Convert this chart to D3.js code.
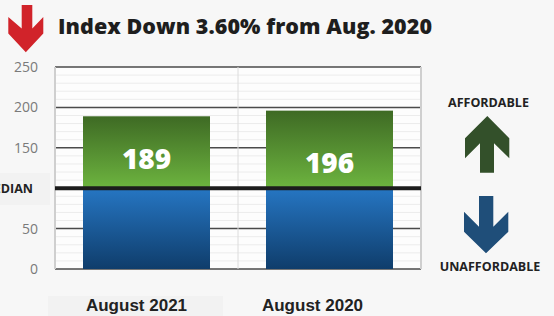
<!DOCTYPE html>
<html lang="en">
  <head>
    <meta charset="UTF-8"/>
    <title>Affordability Index</title>
    <script src="https://d3js.org/d3.v7.min.js"></script>
    <style>
        body {
          margin: 0;
          background: #f7f7f7;
        }
        .title {
          font-family: "Open Sans", sans-serif;
          font-weight: 800;
          fill: #1e1e1e;
        }
        .tick-label {
          font-family: "Open Sans", sans-serif;
          font-size: 14px;
          fill: #7a7a7a;
        }
        .side-label {
          font-family: "Open Sans", sans-serif;
          font-weight: 700;
          font-size: 12.5px;
          fill: #222;
        }
        .cat-label {
          font-family: "Liberation Sans", Arial, sans-serif;
          font-weight: 700;
          font-size: 17px;
          fill: #222;
        }
        .value-label {
          font-family: "Open Sans", sans-serif;
          font-weight: 800;
          font-size: 28px;
          fill: #fff;
        }
    </style>
  </head>
  <body>
    <script>
        const width = 554, height = 316

        const categories = ["August 2021", "August 2020"]
        const values = [189, 196]
        const median = 100
        const majorTicks = [0, 50, 100, 150, 200, 250]
        const minorTicks = d3.range(10, 250, 10).filter(t => t % 50 !== 0)
        const title = "Index Down 3.60% from Aug. 2020"

        const plot = {left: 55, right: 421, top: 67, bottom: 269}

        const x = d3.scaleBand()
            .domain(categories)
            .range([plot.left, plot.right])
            .paddingInner(0.306)
            .paddingOuter(0.153)

        const y = d3.scaleLinear()
            .domain([0, 250])
            .range([plot.bottom, plot.top])

        const svg = d3.select("body").append("svg")
            .attr("width", width)
            .attr("height", height)

        svg.append("rect")
            .attr("width", width)
            .attr("height", height)
            .attr("fill", "#f7f7f7")

        // gradients for the two halves of each bar
        const defs = svg.append("defs")
        const gGreen = defs.append("linearGradient")
            .attr("id", "green").attr("x1", 0).attr("y1", 0).attr("x2", 0).attr("y2", 1)
        gGreen.append("stop").attr("offset", "0%").attr("stop-color", "#3e6a24")
        gGreen.append("stop").attr("offset", "100%").attr("stop-color", "#6db43f")
        const gBlue = defs.append("linearGradient")
            .attr("id", "blue").attr("x1", 0).attr("y1", 0).attr("x2", 0).attr("y2", 1)
        gBlue.append("stop").attr("offset", "0%").attr("stop-color", "#2676c3")
        gBlue.append("stop").attr("offset", "100%").attr("stop-color", "#0f3d6b")

        // faint label boxes
        svg.append("rect")
            .attr("x", 0).attr("y", 173).attr("width", 50).attr("height", 32)
            .attr("fill", "#f2f2f2")
        svg.append("rect")
            .attr("x", 48).attr("y", 296).attr("width", 175).attr("height", 20)
            .attr("fill", "#f2f2f2")

        // plot background
        svg.append("rect")
            .attr("x", plot.left).attr("y", plot.top)
            .attr("width", plot.right - plot.left)
            .attr("height", plot.bottom - plot.top)
            .attr("fill", "#fdfdfd")

        // minor grid
        svg.selectAll(".minor")
            .data(minorTicks)
            .join("line")
            .attr("x1", plot.left).attr("x2", plot.right)
            .attr("y1", d => y(d)).attr("y2", d => y(d))
            .attr("stroke", "#ececec")
            .attr("stroke-width", 1)

        // major grid
        svg.selectAll(".major")
            .data(majorTicks.filter(t => t !== median))
            .join("line")
            .attr("x1", plot.left).attr("x2", plot.right)
            .attr("y1", d => y(d)).attr("y2", d => y(d))
            .attr("stroke", "#4a4a4a")
            .attr("stroke-width", 1.5)

        // vertical dividers
        const dividers = [plot.left, plot.left + x.step() * (0.153 + 1 - 0.306 / 2) , plot.right]
        svg.selectAll(".vdiv")
            .data(dividers)
            .join("line")
            .attr("x1", d => d).attr("x2", d => d)
            .attr("y1", plot.top).attr("y2", plot.bottom)
            .attr("stroke", (d, i) => i === 1 ? "#dcdcdc" : "#cfcfcf")
            .attr("stroke-width", (d, i) => i === 1 ? 1 : 2)

        // tick labels
        svg.selectAll(".tick-label")
            .data(majorTicks.filter(t => t !== median))
            .join("text")
            .attr("class", "tick-label")
            .attr("x", 38)
            .attr("y", d => y(d) + 5)
            .attr("text-anchor", "end")
            .text(d => d)

        svg.append("text")
            .attr("class", "side-label")
            .attr("x", 33)
            .attr("y", y(median) + 5)
            .attr("text-anchor", "end")
            .text("MEDIAN")

        // bars: green above median, blue below
        svg.selectAll(".bar-top")
            .data(values)
            .join("rect")
            .attr("x", (d, i) => x(categories[i]))
            .attr("width", x.bandwidth())
            .attr("y", d => y(d))
            .attr("height", d => y(median) - y(d))
            .attr("fill", "url(#green)")

        svg.selectAll(".bar-bottom")
            .data(values)
            .join("rect")
            .attr("x", (d, i) => x(categories[i]))
            .attr("width", x.bandwidth())
            .attr("y", y(median))
            .attr("height", y(0) - y(median))
            .attr("fill", "url(#blue)")

        // median line
        svg.append("line")
            .attr("x1", plot.left).attr("x2", plot.right)
            .attr("y1", y(median)).attr("y2", y(median))
            .attr("stroke", "#1c1c1c")
            .attr("stroke-width", 4)

        svg.selectAll(".value-label")
            .data(values)
            .join("text")
            .attr("class", "value-label")
            .attr("x", (d, i) => x(categories[i]) + x.bandwidth() / 2)
            .attr("y", (d, i) => y(median) - 19 + (i === 1 ? 4 : 0))
            .attr("text-anchor", "middle")
            .text(d => d)

        // category labels
        svg.selectAll(".cat-label")
            .data(categories)
            .join("text")
            .attr("class", "cat-label")
            .attr("x", d => x(d) + x.bandwidth() / 2 - 10 - (d === categories[1] ? 7 : 0))
            .attr("y", 311)
            .attr("text-anchor", "middle")
            .text(d => d)

        // title with red arrow
        svg.append("path")
            .attr("d", "M21.7,5 L32.3,5 L32.3,28.5 L43.3,17 L43.3,33.5 L25.8,52.3 L8.3,33.5 L8.3,17 L21.7,28.5 Z")
            .attr("fill", "#d1232a")
        svg.append("text")
            .attr("class", "title")
            .attr("x", 58)
            .attr("y", 34)
            .attr("font-size", 21.5)
            .attr("textLength", 374)
            .attr("lengthAdjust", "spacing")
            .text(title)

        // side arrows
        svg.append("text")
            .attr("class", "side-label")
            .attr("x", 488.5).attr("y", 107)
            .attr("text-anchor", "middle")
            .text("AFFORDABLE")
        svg.append("path")
            .attr("d", "M487.3,116 L509.3,138.3 L509.3,158.3 L494,143.3 L494,172.7 L480,172.7 L480,143.3 L465,158.3 L465,138.3 Z")
            .attr("fill", "#33502a")
        svg.append("path")
            .attr("d", "M479,196 L493.3,196 L493.3,226.7 L508.3,211.7 L508.3,231.7 L486,253.3 L464,231.7 L464,211.7 L479,226.7 Z")
            .attr("fill", "#1f4e79")
        svg.append("text")
            .attr("class", "side-label")
            .attr("x", 490).attr("y", 271)
            .attr("text-anchor", "middle")
            .text("UNAFFORDABLE")
    </script>
  </body>
</html>
